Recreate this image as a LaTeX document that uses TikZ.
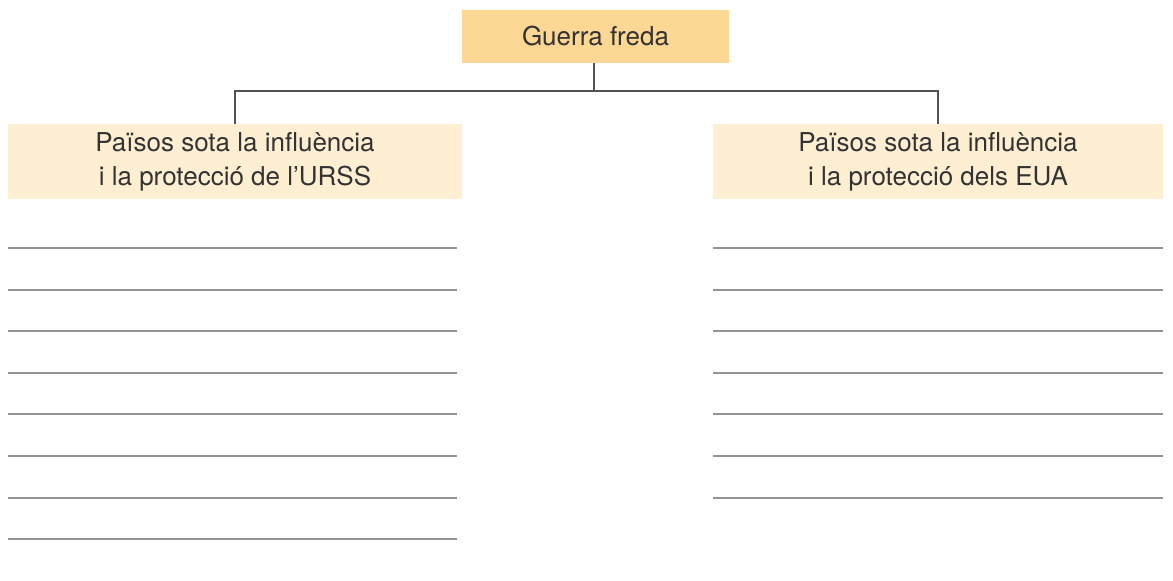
\documentclass[tikz,border=0pt]{standalone}
\usepackage{fontspec}
\setmainfont{TeX Gyre Heros}
\begin{document}
\begin{tikzpicture}[x=1pt,y=-1pt,
  txt/.style={text=black!80, font=\fontsize{26}{34}\selectfont, align=center, inner sep=0pt, outer sep=0pt},
  topbox/.style={txt, fill=topcol, minimum width=267pt, minimum height=53pt},
  subbox/.style={txt, fill=subcol, minimum width=452pt, minimum height=75pt},
  conn/.style={draw=black!68, line width=1.2pt},
  rule/.style={draw=black!42, line width=1.2pt}]
\definecolor{topcol}{HTML}{FDD794}
\definecolor{subcol}{HTML}{FEEFD3}
\useasboundingbox (0,0) rectangle (1173,581);
\node[topbox] (top) at (595.5,36.5) {Guerra freda};
\node[subbox, minimum width=454pt] (left) at (235,161.5) {Països sota la influència\\i la protecció de l’URSS};
\node[subbox, minimum width=450pt] (right) at (938,161.5) {Països sota la influència\\i la protecció dels EUA};
\coordinate (jn) at (594,91);
\draw[conn] (top.south -| jn) -- (jn);
\draw[conn] (jn) -| (left.north);
\draw[conn] (jn) -| (right.north);
\foreach \y in {248,290,331,373,414,456,498,539}
  \draw[rule] (8,\y) -- (457,\y);
\foreach \y in {248,290,331,373,414,456,498}
  \draw[rule] (713,\y) -- (1163,\y);
\end{tikzpicture}
\end{document}
